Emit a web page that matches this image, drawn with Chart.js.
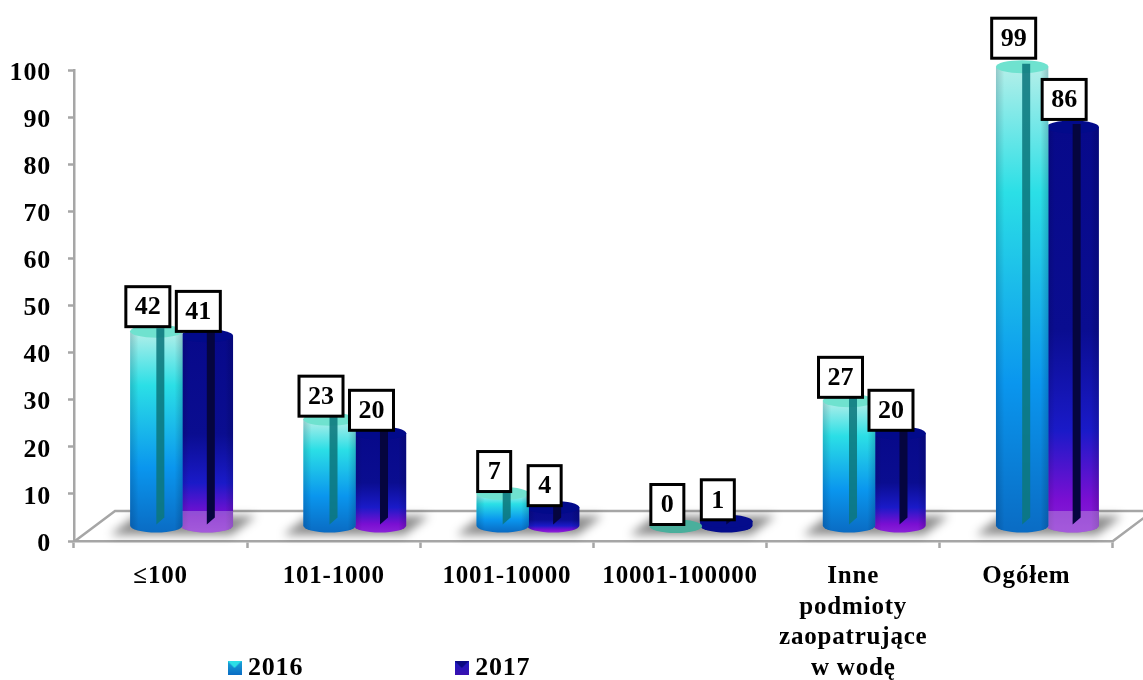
<!DOCTYPE html>
<html>
<head>
<meta charset="utf-8">
<style>html,body{margin:0;padding:0;background:#fff}#w{width:1143px;height:680px;position:relative}</style>
<script src="https://cdn.jsdelivr.net/npm/chart.js@4"></script>
</head>
<body>
<div id="w"><canvas id="c"></canvas></div>
<script>
const categories = ['≤100', '101-1000', '1001-10000', '10001-100000', ['Inne', 'podmioty', 'zaopatrujące', 'w wodę'], 'Ogółem'];
const values2016 = [42, 23, 7, 0, 27, 99];
const values2017 = [41, 20, 4, 1, 20, 86];
const seriesNames = ['2016', '2017'];
const seriesKeys = ['#1d9fd8', '#1a1aa8'];

const FONT = '"Liberation Serif", "Times New Roman", serif';
const AXIS = '#a6a6a6';
const SPACING = '0.8px';

const themes = {
  '#1d9fd8': {
    stops: [[0, '#b4efe9'], [0.27, '#2bdfe6'], [0.68, '#0a96ee'], [1, '#0a6cc4']],
    cap: '#6fe2cf', flat: '#4aaf9c', strip: 'rgba(13,120,125,0.88)'
  },
  '#1a1aa8': {
    stops: [[0, '#07098a'], [0.5, '#0a0d90'], [0.75, '#1a1ac8'], [0.92, '#7a0fd2'], [1, '#8a20d8']],
    cap: '#020a8a', flat: '#040c8c', strip: '#05053f'
  }
};

// 3D look: the bars stand on a receding floor
const FLOOR_DY = 15, SCALE_3D = 0.985, RY = 6.5, DX = 21;

function cylinderDraw(ctx) {
  const t = themes[this.options.backgroundColor] || themes['#1d9fd8'];
  const cx = this.x + DX, w = this.width + 2, l = cx - w / 2, r = cx + w / 2;
  const bot = this.base - FLOOR_DY, top = bot - (this.base - this.y) * SCALE_3D;
  const height = bot - top;
  ctx.save();
  let g;
  if (height < 8) {
    g = t.flat;
  } else {
    g = ctx.createLinearGradient(0, top, 0, bot + RY);
    t.stops.forEach(s => g.addColorStop(s[0], s[1]));
  }
  ctx.beginPath();
  ctx.moveTo(l, top);
  ctx.lineTo(l, bot);
  ctx.ellipse(cx, bot, w / 2, RY + .5, 0, Math.PI, 0, true);
  ctx.lineTo(r, top);
  ctx.closePath();
  ctx.fillStyle = g;
  ctx.fill();
  ctx.save();
  ctx.clip();
  const h = ctx.createLinearGradient(l, 0, r, 0);
  h.addColorStop(0, 'rgba(0,0,40,0.16)');
  h.addColorStop(0.16, 'rgba(0,0,0,0)');
  h.addColorStop(0.85, 'rgba(0,0,0,0)');
  h.addColorStop(1, 'rgba(0,0,40,0.18)');
  ctx.fillStyle = h;
  if (height >= 8) ctx.fillRect(l, top - RY, w, height + 2 * RY + 2);
  if (t === themes['#1a1aa8'] && height > 150) {
    ctx.fillStyle = 'rgba(225,225,225,0.3)';
    ctx.fillRect(l, 511, w, 30);
  }
  ctx.restore();
  ctx.beginPath();
  ctx.ellipse(cx, top, w / 2, RY, 0, 0, Math.PI * 2);
  ctx.fillStyle = height < 8 ? t.flat : t.cap;
  ctx.fill();
  if (height >= 1) {
    const sl = cx, sr = cx + 8;
    ctx.beginPath();
    ctx.moveTo(sl, top - 3);
    ctx.lineTo(sr, top - 3);
    ctx.lineTo(sr, Math.max(top - 3, bot - 8));
    ctx.lineTo(sl, Math.max(top + 2, bot - 1));
    ctx.closePath();
    ctx.fillStyle = t.strip;
    ctx.fill();
  }
  ctx.restore();
}
Chart.BarElement.prototype.draw = cylinderDraw;

function icon(stops, cap) {
  const c = document.createElement('canvas');
  c.width = 14; c.height = 14;
  const x = c.getContext('2d');
  const g = x.createLinearGradient(0, 0, 0, 14);
  stops.forEach(s => g.addColorStop(s[0], s[1]));
  x.fillStyle = g; x.fillRect(0, 0, 14, 14);
  x.fillStyle = cap;
  x.beginPath(); x.moveTo(0, 0); x.lineTo(14, 0); x.lineTo(7, 7); x.closePath(); x.fill();
  return c;
}
const icons = [
  icon([[0, '#1aa4d8'], [1, '#0a6cc4']], '#2bdfe6'),
  icon([[0, '#1a1ac0'], [1, '#3a10b0']], '#0a0a80')
];

const floorPlugin = {
  id: 'floor',
  beforeLayout(chart) {
    chart.ctx.letterSpacing = SPACING;
    const lg = chart.legend;
    if (!lg._noHeight) {
      const fit = lg.fit;
      lg.fit = function () { fit.call(this); this.height = 0; };
      lg._noHeight = true;
    }
  },
  afterLayout(chart) {
    const lg = chart.legend, pad = lg.options.labels.padding;
    lg.left = 234 - pad; lg.right = 3000;
    lg.top = 667 - pad - 12; lg.bottom = 700;
  },
  beforeDraw(chart) { chart.ctx.letterSpacing = SPACING; },
  beforeDatasetsDraw(chart) {
    const ctx = chart.ctx, a = chart.chartArea;
    ctx.save();
    ctx.strokeStyle = AXIS; ctx.lineWidth = 2.5;
    ctx.beginPath();
    ctx.moveTo(a.left + 1, a.bottom);
    ctx.lineTo(a.left + 41, a.bottom - 30);
    ctx.lineTo(1160, a.bottom - 30);
    ctx.moveTo(a.right, a.bottom);
    ctx.lineTo(a.right + 40, a.bottom - 30);
    ctx.stroke();
    const m0 = chart.getDatasetMeta(0).data, m1 = chart.getDatasetMeta(1).data;
    ctx.filter = 'blur(5px)';
    ctx.fillStyle = 'rgba(0,0,0,0.45)';
    m0.forEach((b, i) => {
      const x0 = b.x + DX - b.width / 2 - 21, x1 = m1[i].x + DX + b.width / 2 + 24;
      ctx.beginPath();
      ctx.moveTo(x0, 535); ctx.lineTo(x0 + 25, 516); ctx.lineTo(x1, 516); ctx.lineTo(x1 - 25, 535);
      ctx.closePath(); ctx.fill();
    });
    ctx.restore();
  },
  afterDatasetsDraw(chart) {
    const ctx = chart.ctx;
    ctx.save();
    ctx.letterSpacing = '0px';
    ctx.font = 'bold 26px ' + FONT;
    ctx.textAlign = 'center'; ctx.textBaseline = 'middle';
    chart.data.datasets.forEach((ds, di) => {
      chart.getDatasetMeta(di).data.forEach((b, i) => {
        const v = ds.data[i], txt = String(v);
        const w = txt.length > 1 ? 44 : 33, hgt = 40;
        const cx = b.x + DX - 8.5, cy = b.y - 36.5;
        ctx.fillStyle = '#fff'; ctx.strokeStyle = '#000'; ctx.lineWidth = 3;
        ctx.fillRect(cx - w / 2, cy - hgt / 2, w, hgt);
        ctx.strokeRect(cx - w / 2, cy - hgt / 2, w, hgt);
        ctx.fillStyle = '#000';
        ctx.fillText(txt, cx, cy + 1);
      });
    });
    ctx.restore();
  }
};

new Chart(document.getElementById('c'), {
  type: 'bar',
  data: {
    labels: categories,
    datasets: [
      { label: seriesNames[0], data: values2016, backgroundColor: seriesKeys[0], clip: false },
      { label: seriesNames[1], data: values2017, backgroundColor: seriesKeys[1], clip: false }
    ]
  },
  options: {
    responsive: true,
    maintainAspectRatio: false,
    animation: false,
    layout: { padding: { top: 70, right: 30, bottom: 0, left: 0 } },
    datasets: { bar: { categoryPercentage: 0.583, barPercentage: 1 } },
    plugins: {
      tooltip: { enabled: false },
      legend: {
        display: true,
        position: 'bottom',
        align: 'start',
        labels: {
          usePointStyle: true,
          pointStyleWidth: 1,
          padding: 158,
          color: '#000',
          font: { family: FONT, size: 26, weight: 'bold' },
          generateLabels(chart) {
            const items = Chart.defaults.plugins.legend.labels.generateLabels(chart);
            items.forEach((it, i) => { it.pointStyle = icons[i]; });
            return items;
          }
        }
      }
    },
    scales: {
      x: {
        afterFit(s) { s.height = 139; },
        border: { color: AXIS, width: 2.5 },
        grid: { drawOnChartArea: false, drawTicks: true, tickLength: 7, tickColor: AXIS, tickWidth: 2.5 },
        ticks: {
          color: '#000', autoSkip: false, maxRotation: 0, minRotation: 0, padding: 13,
          font: { family: FONT, size: 25, weight: 'bold', lineHeight: 1.23 }
        }
      },
      y: {
        min: 0, max: 100,
        afterFit(s) { s.width = 74; },
        border: { color: AXIS, width: 2.5 },
        grid: { drawOnChartArea: false, drawTicks: true, tickLength: 6, tickColor: AXIS, tickWidth: 2.5 },
        ticks: {
          stepSize: 10, color: '#000', padding: 17, autoSkip: false, labelOffset: 3,
          font: { family: FONT, size: 26, weight: 'bold' }
        }
      }
    }
  },
  plugins: [floorPlugin]
});
</script>
</body>
</html>
